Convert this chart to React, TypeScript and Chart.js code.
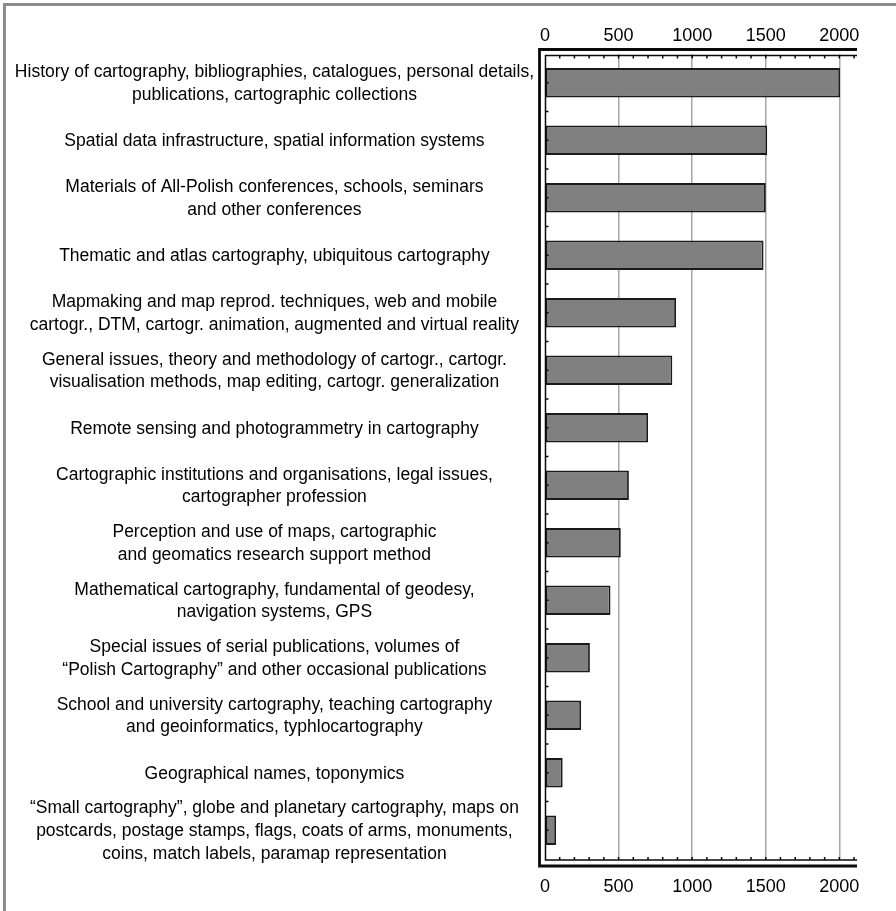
import React, { useEffect, useRef } from "react";
import { Chart, registerables } from "chart.js";

Chart.register(...registerables);

const categories: (string | string[])[] = [
  ["History of cartography, bibliographies, catalogues, personal details,", "publications, cartographic collections"],
  "Spatial data infrastructure, spatial information systems",
  ["Materials of All-Polish conferences, schools, seminars", "and other conferences"],
  "Thematic and atlas cartography, ubiquitous cartography",
  ["Mapmaking and map reprod. techniques, web and mobile", "cartogr., DTM, cartogr. animation, augmented and virtual reality"],
  ["General issues, theory and methodology of cartogr., cartogr.", "visualisation methods, map editing, cartogr. generalization"],
  "Remote sensing and photogrammetry in cartography",
  ["Cartographic institutions and organisations, legal issues,", "cartographer profession"],
  ["Perception and use of maps, cartographic", "and geomatics research support method"],
  ["Mathematical cartography, fundamental of geodesy,", "navigation systems, GPS"],
  ["Special issues of serial publications, volumes of", "\u201CPolish Cartography\u201D and other occasional publications"],
  ["School and university cartography, teaching cartography", "and geoinformatics, typhlocartography"],
  "Geographical names, toponymics",
  ["\u201CSmall cartography\u201D, globe and planetary cartography, maps on", "postcards, postage stamps, flags, coats of arms, monuments,", "coins, match labels, paramap representation"],
];

const values: number[] = [2005, 1510, 1500, 1485, 890, 865, 700, 570, 515, 445, 305, 245, 120, 75];

const axisMin = 0;
const axisMax = 2120;
const minorStep = 100;
const labelStep = 500;

const FONT = '"Liberation Sans", Arial, Helvetica, sans-serif';

const tickLabel = (v: number | string) => {
  const n = Math.round(Number(v));
  return n % labelStep === 0 ? String(n) : "";
};

const framePlugin = {
  id: "frameTicks",
  afterDraw(chart: any) {
    const { ctx, chartArea: ca, scales } = chart;
    const xs = scales.x;
    const ys = scales.y;
    const innerTop = ca.top + 1.5;
    const innerBottom = ca.bottom + 1;
    ctx.save();
    ctx.strokeStyle = "#0a0a0a";
    ctx.lineWidth = 1.5;
    ctx.beginPath();
    for (const t of xs.ticks) {
      if (t.value === 0) continue;
      const px = xs.getPixelForValue(t.value);
      ctx.moveTo(px, innerTop);
      ctx.lineTo(px, innerTop + 3);
      ctx.moveTo(px, innerBottom);
      ctx.lineTo(px, innerBottom - 3);
    }
    const half = (ys.getPixelForValue(1) - ys.getPixelForValue(0)) / 2;
    for (let i = 0; i < categories.length; i++) {
      const c = ys.getPixelForValue(i);
      ctx.moveTo(ca.left, c);
      ctx.lineTo(ca.left + 3.5, c);
      if (i > 0) {
        ctx.moveTo(ca.left, c - half);
        ctx.lineTo(ca.left + 3.5, c - half);
      }
    }
    ctx.stroke();
    // inner frame
    ctx.lineWidth = 1.5;
    ctx.beginPath();
    ctx.moveTo(ca.right, innerTop);
    ctx.lineTo(ca.left + 0.5, innerTop);
    ctx.lineTo(ca.left + 0.5, innerBottom);
    ctx.lineTo(ca.right, innerBottom);
    ctx.stroke();
    // outer frame
    ctx.lineWidth = 2.8;
    ctx.beginPath();
    ctx.moveTo(ca.right, ca.top - 4.5);
    ctx.lineTo(ca.left - 5.5, ca.top - 4.5);
    ctx.lineTo(ca.left - 5.5, ca.bottom + 7);
    ctx.lineTo(ca.right, ca.bottom + 7);
    ctx.stroke();
    ctx.restore();
  },
};

export default function App() {
  const ref = useRef<HTMLCanvasElement | null>(null);

  useEffect(() => {
    if (!ref.current) return;
    const xTicks = (padding: number) => ({
      stepSize: minorStep,
      includeBounds: false,
      autoSkip: false,
      maxRotation: 0,
      minRotation: 0,
      padding,
      color: "#000",
      font: { family: FONT, size: 18, lineHeight: 1.2 },
      callback: tickLabel,
    });
    const chart = new Chart(ref.current, {
      type: "bar",
      data: {
        labels: categories as any,
        datasets: [
          {
            data: values,
            backgroundColor: "#808080",
            borderColor: "#1a1a1a",
            borderWidth: 1.8,
            borderSkipped: false,
            barPercentage: 0.51,
            categoryPercentage: 1,
          },
        ],
      },
      options: {
        indexAxis: "y",
        animation: false,
        responsive: false,
        devicePixelRatio: 1,
        layout: { padding: { left: 0, right: 39, top: 0, bottom: 0 } },
        plugins: { legend: { display: false }, tooltip: { enabled: false } },
        scales: {
          x: {
            type: "linear",
            position: "bottom",
            min: axisMin,
            max: axisMax,
            border: { display: false },
            grid: {
              drawTicks: false,
              lineWidth: 1.5,
              color: (ctx: any) =>
                ctx.tick && Math.round(ctx.tick.value) % labelStep === 0 && ctx.tick.value > 0
                  ? "#a6a6a6"
                  : "rgba(0,0,0,0)",
            },
            ticks: xTicks(17),
            afterFit: (s: any) => {
              s.height = 52;
            },
          },
          x2: {
            type: "linear",
            position: "top",
            min: axisMin,
            max: axisMax,
            border: { display: false },
            grid: { drawOnChartArea: false, drawTicks: false, color: "rgba(0,0,0,0)" },
            ticks: xTicks(7),
            afterFit: (s: any) => {
              s.height = 54;
            },
          },
          y: {
            type: "category",
            position: "left",
            border: { display: false },
            grid: { display: false, drawTicks: false },
            ticks: {
              autoSkip: false,
              crossAlign: "center",
              padding: 11,
              labelOffset: 1,
              color: "#000",
              font: { family: FONT, size: 17.5, lineHeight: 1.3 },
            },
            afterFit: (s: any) => {
              s.width = 545;
            },
          },
        },
      } as any,
      plugins: [framePlugin],
    });
    return () => chart.destroy();
  }, []);

  return (
    <div style={{ position: "absolute", left: 0, top: 0, width: 896, height: 911, background: "#fff" }}>
      <div
        style={{
          position: "absolute",
          left: 3,
          top: 3,
          width: 893,
          height: 908,
          borderLeft: "3px solid #8c8c8c",
          borderTop: "3px solid #8c8c8c",
          boxSizing: "border-box",
        }}
      />
      <canvas ref={ref} width={896} height={911} style={{ position: "absolute", left: 0, top: 0 }} />
    </div>
  );
}
